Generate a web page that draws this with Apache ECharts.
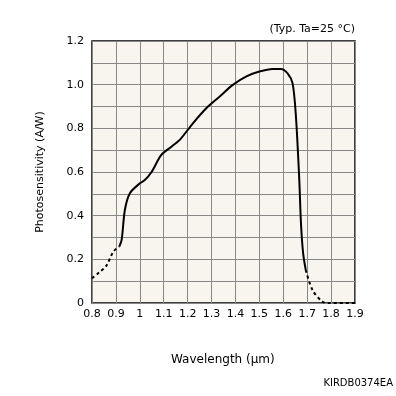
<!DOCTYPE html>
<head>
    <meta charset="utf-8">
    <title>Photosensitivity</title>
    <script type="text/javascript" src="https://cdn.jsdelivr.net/npm/echarts@6/dist/echarts.min.js"></script>
    <style>body{margin:0;background:#fff;}</style>
</head>
<body>
    <div id="main" style="width:396px;height:396px"></div>
    <script type="text/javascript">
     // wavelength (um) / photosensitivity (A/W)
     var dashLowX  = [0.80, 0.83, 0.86, 0.889, 0.914];
     var dashLowY  = [0.113, 0.14, 0.17, 0.235, 0.258];
     var solidX = [0.914, 0.924, 0.9375, 0.958, 1.0, 1.021, 1.049, 1.09, 1.132, 1.167, 1.222, 1.278, 1.333, 1.389, 1.444, 1.5, 1.555, 1.59, 1.618, 1.639, 1.653, 1.667, 1.674, 1.683, 1.694];
     var solidY = [0.258, 0.289, 0.426, 0.502, 0.548, 0.563, 0.60, 0.678, 0.716, 0.747, 0.823, 0.892, 0.945, 0.999, 1.037, 1.06, 1.072, 1.072, 1.052, 1.006, 0.853, 0.563, 0.365, 0.228, 0.151];
     var dashHighX = [1.694, 1.722, 1.764, 1.79, 1.9];
     var dashHighY = [0.151, 0.06, 0.006, 0.0, 0.0];
     var xTicks = ['0.8', '0.9', '1', '1.1', '1.2', '1.3', '1.4', '1.5', '1.6', '1.7', '1.8', '1.9'];

     function pairs(xs, ys) {
         return xs.map(function (x, i) { return [x, ys[i]]; });
     }

     var font = 'DejaVu Sans';
     var myChart = echarts.init(document.getElementById('main'));
     myChart.setOption({
         textStyle: { fontFamily: font },
         animation: false,
         grid: { left: 92, top: 41, width: 263, height: 262, backgroundColor: '#f7f5ee', show: true, borderColor: '#000', borderWidth: 1.5 },
         graphic: [
             { type: 'text', right: 41, top: 24, style: { text: '(Typ. Ta=25 °C)', font: '11px DejaVu Sans', fill: '#000' } },
             { type: 'text', left: 171, top: 354, style: { text: 'Wavelength (μm)', font: '12px DejaVu Sans', fill: '#000' } },
             { type: 'text', right: 3, top: 378, style: { text: 'KIRDB0374EA', font: '10px DejaVu Sans', fill: '#000' } }
         ],
         xAxis: {
             type: 'value', min: 0.8, max: 1.9, interval: 0.1,
             axisLine: { show: false }, axisTick: { show: false },
             axisLabel: { color: '#000', fontSize: 11, margin: 6, formatter: function (v) { return xTicks[Math.round((v - 0.8) * 10)]; } },
             splitLine: { lineStyle: { color: '#888', width: 1 } }
         },
         yAxis: [{
             type: 'value', min: 0, max: 1.2, interval: 0.1,
             name: 'Photosensitivity (A/W)', nameLocation: 'middle', nameGap: 46, nameRotate: 90,
             nameTextStyle: { color: '#000', fontSize: 11 },
             axisLine: { show: false }, axisTick: { show: false },
             axisLabel: { color: '#000', fontSize: 11, margin: 8, formatter: function (v) {
                 var r = Math.round(v * 10);
                 if (r % 2) return '';
                 return r === 0 ? '0' : (r / 10).toFixed(1);
             } },
             splitLine: { lineStyle: { color: '#888', width: 1 } }
         }],
         series: [
             { type: 'line', data: pairs(dashLowX, dashLowY), smooth: 0.3, showSymbol: false, lineStyle: { color: '#000', width: 2, type: [3, 3] } },
             { type: 'line', data: pairs(solidX, solidY), smooth: 0.3, showSymbol: false, lineStyle: { color: '#000', width: 2 } },
             { type: 'line', data: pairs(dashHighX, dashHighY), smooth: 0.3, showSymbol: false, lineStyle: { color: '#000', width: 2, type: [3, 3] } }
         ]
     });
    </script>
</body>
